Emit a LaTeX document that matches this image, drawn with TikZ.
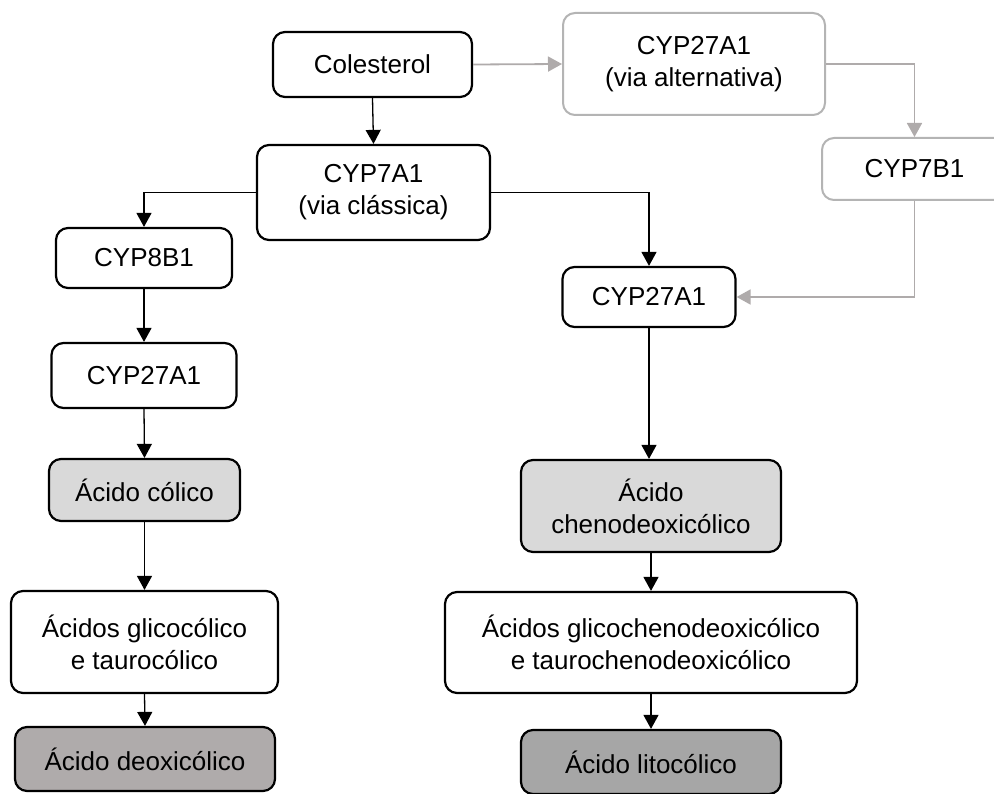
\documentclass[tikz,border=0pt]{standalone}
\usepackage{fontspec}
\setmainfont{Liberation Sans}
\usetikzlibrary{arrows.meta}
\definecolor{lightfill}{HTML}{D9D9D9}
\definecolor{deoxfill}{HTML}{AFABAB}
\definecolor{litofill}{HTML}{A6A6A6}
\definecolor{altgrey}{HTML}{B4B4B4}
\definecolor{altline}{HTML}{AFABAB}
\tikzset{
  box/.style={draw=black, line width=2.2pt, rounded corners=12pt, fill=white,
    align=center, inner sep=0pt, font=\fontsize{26}{32}\selectfont},
  greybox/.style={box, draw=altgrey, line width=2pt},
  conn/.style={draw=black, line width=1.3pt, -{Triangle[width=15pt,length=14pt]}},
  greyconn/.style={draw=altline, line width=1.8pt, -{Triangle[width=15pt,length=14pt]}},
}
\begin{document}
\begin{tikzpicture}[x=1pt,y=-1pt]
\useasboundingbox (0,0) rectangle (994,794);
\clip (0,0) rectangle (994,794);
% nodes
\node[box, minimum width=199pt, minimum height=65pt] (col) at (372.5,64.5) {Colesterol};
\node[greybox, minimum width=262pt, minimum height=102pt] (alt) at (694,64) {CYP27A1\\(via alternativa)};
\node[greybox, minimum width=185pt, minimum height=62pt] (b7) at (914.5,169) {CYP7B1};
\node[box, minimum width=233pt, minimum height=95pt] (a7) at (373.5,192.5) {CYP7A1\\(via clássica)};
\node[box, minimum width=176pt, minimum height=60pt] (b8) at (144,258) {CYP8B1};
\node[box, minimum width=185pt, minimum height=65pt] (l27) at (144,375.5) {CYP27A1};
\node[box, minimum width=173pt, minimum height=60pt] (r27) at (649,297) {CYP27A1};
\node[box, fill=lightfill, minimum width=191pt, minimum height=62pt] (cal) at (144.5,490) {Ácido cólico};
\node[box, fill=lightfill, minimum width=260pt, minimum height=92pt] (cheno) at (651,506) {Ácido\\chenodeoxicólico};
\node[box, minimum width=267pt, minimum height=102pt] (glic) at (144.5,642) {Ácidos glicocólico\\e taurocólico};
\node[box, minimum width=412pt, minimum height=101pt] (gcheno) at (651,642.5) {Ácidos glicochenodeoxicólico\\e taurochenodeoxicólico};
\node[box, fill=deoxfill, minimum width=260pt, minimum height=64pt] (deox) at (145,759) {Ácido deoxicólico};
\node[box, fill=litofill, minimum width=260pt, minimum height=64pt] (lito) at (651,762) {Ácido litocólico};
% connectors
\draw[conn] (col.south) -- (a7.north);
\draw[greyconn] (col.east) -- (alt.west);
\draw[greyconn] (alt.east) -| (b7.north);
\draw[conn] (a7.west) -| (b8.north);
\draw[conn] (a7.east) -| (r27.north);
\draw[greyconn] (b7.south) |- (r27.east);
\draw[conn] (b8.south) -- (l27.north);
\draw[conn] (l27.south) -- (cal.north);
\draw[conn] (cal.south) -- (glic.north);
\draw[conn] (glic.south) -- (deox.north);
\draw[conn] (r27.south) -- (r27.south |- cheno.north);
\draw[conn] (cheno.south) -- (gcheno.north);
\draw[conn] (gcheno.south) -- (lito.north);
\end{tikzpicture}
\end{document}
